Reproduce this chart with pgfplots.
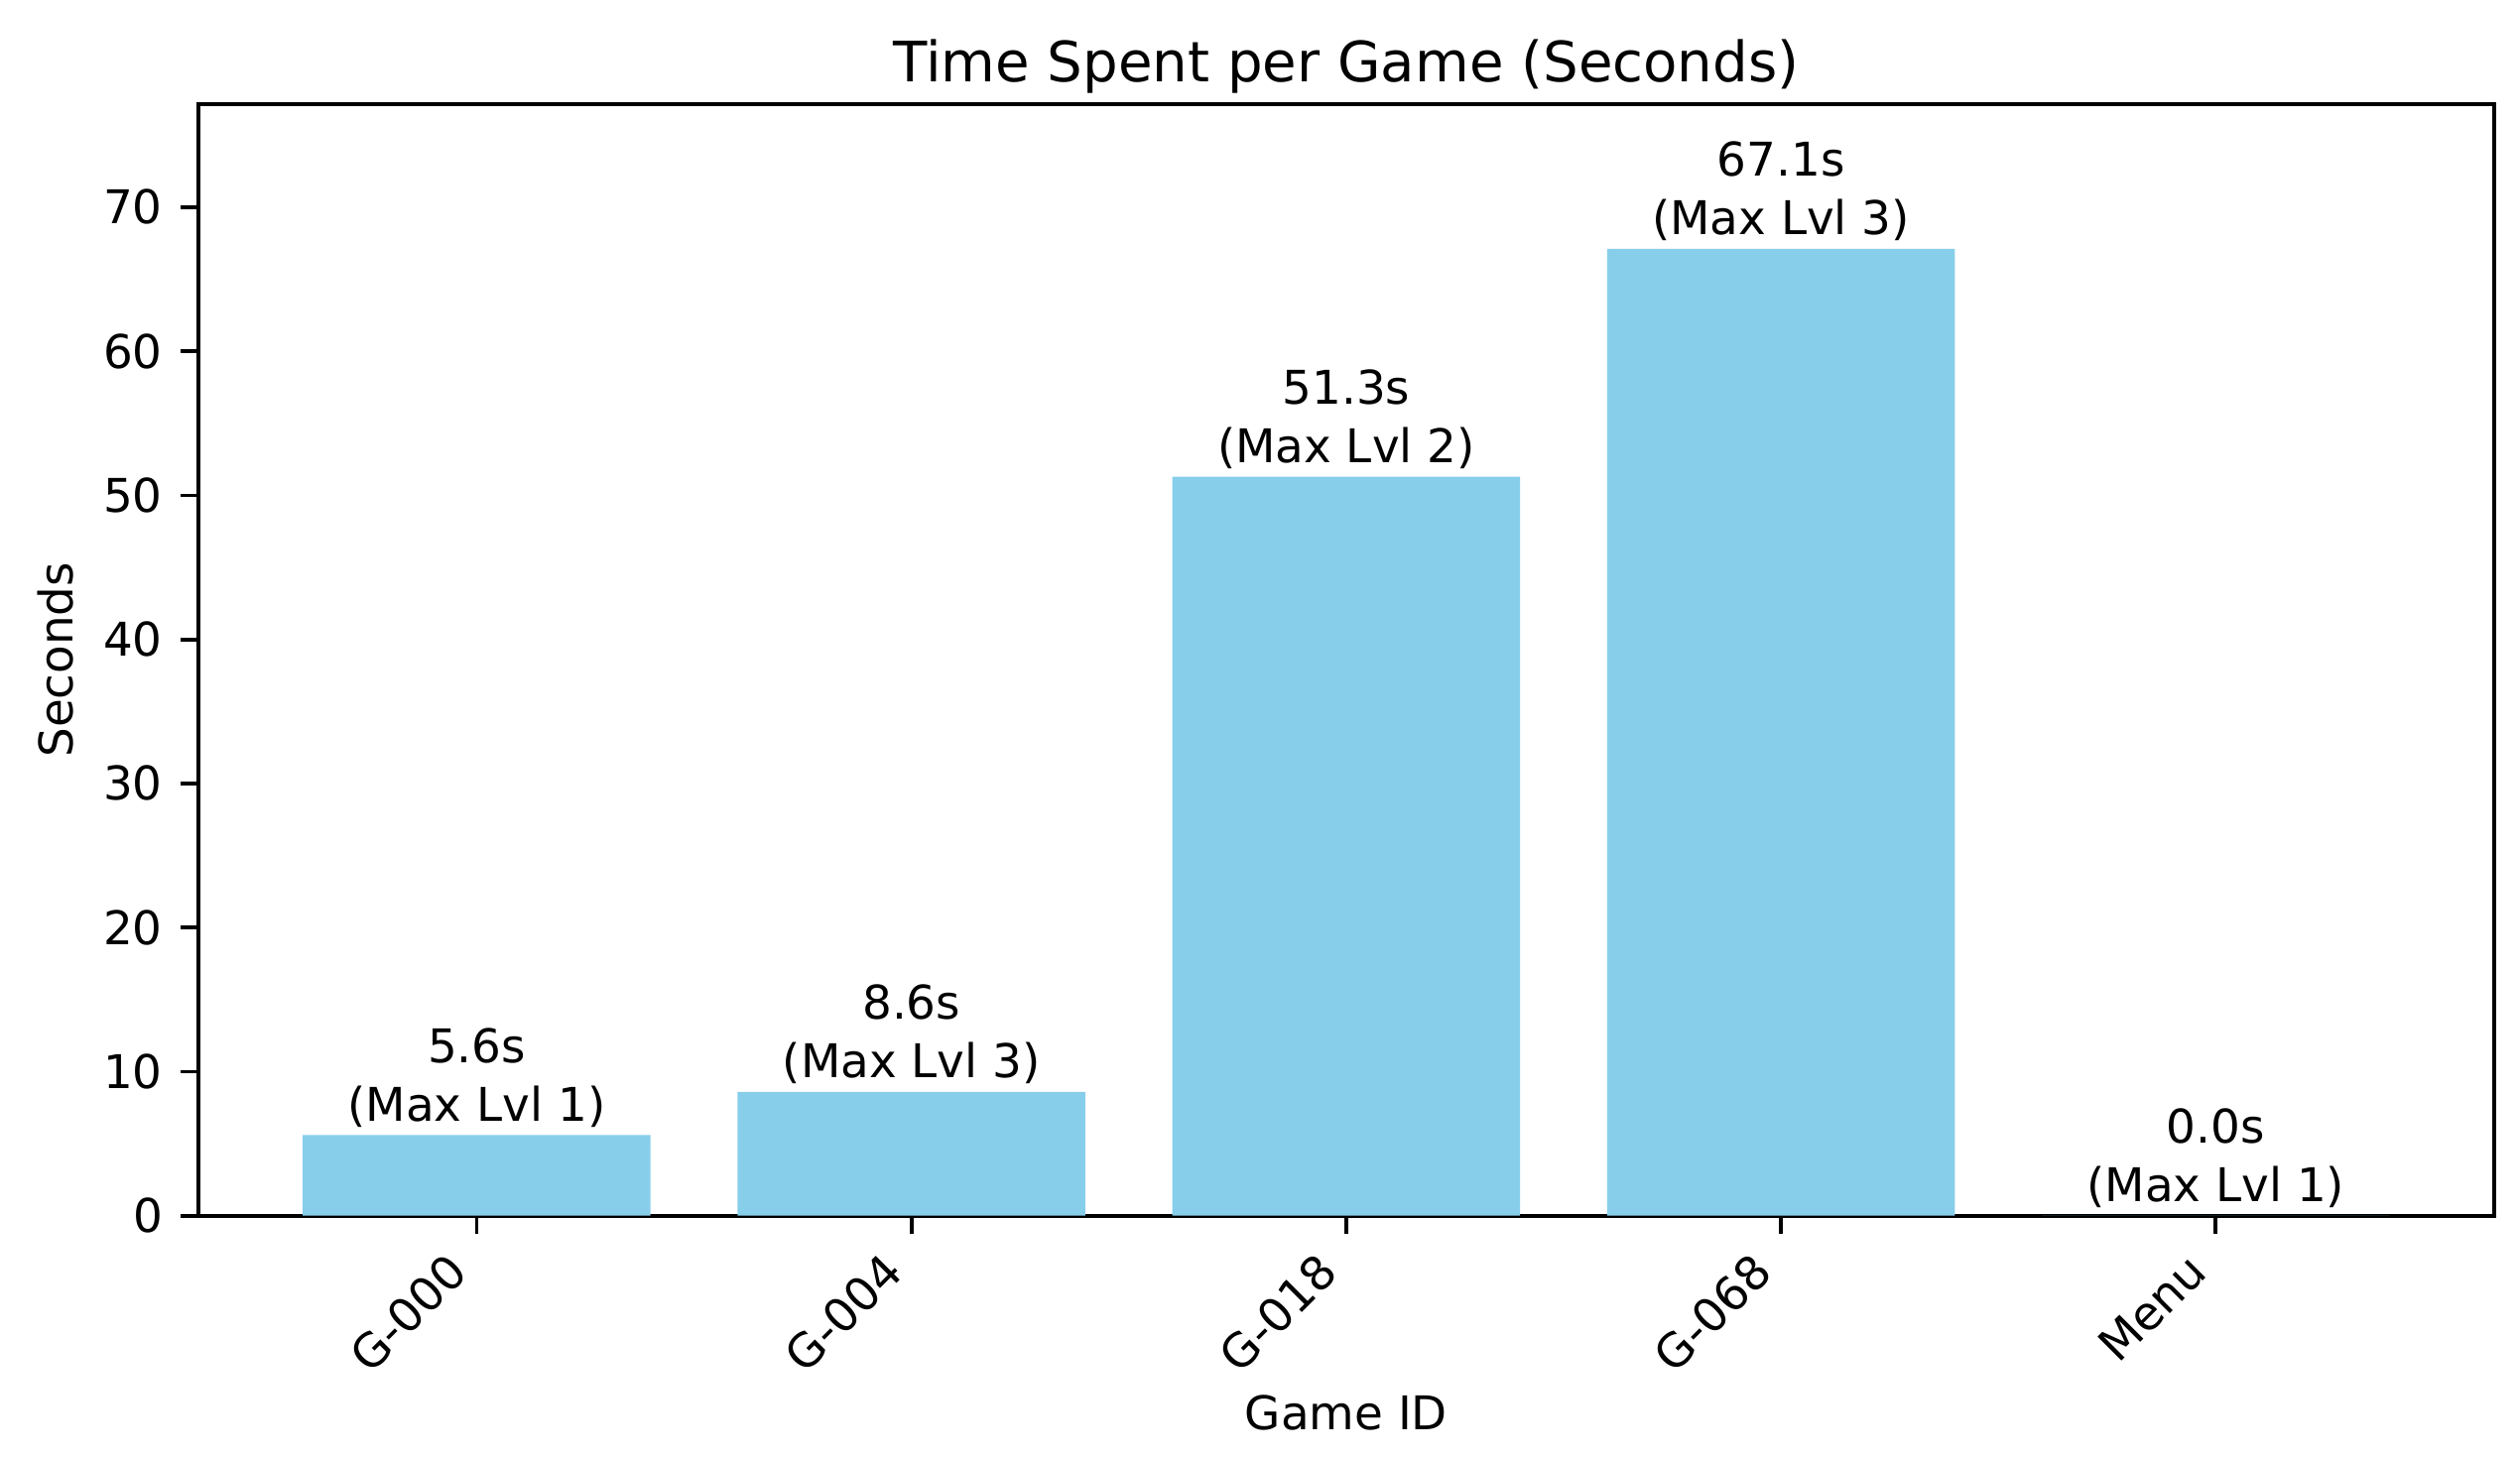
\documentclass[border=0pt]{standalone}
\usepackage{fontspec}
\setmainfont{DejaVu Sans}
\usepackage{pgfplots}
\pgfplotsset{compat=1.18}
\usepackage{pgfplotstable}
\definecolor{skyblue}{HTML}{87CEEB}

\pgfplotstableread{
x y lvl
0 5.6 1
1 8.6 3
2 51.3 2
3 67.1 3
4 0.0 1
}\gamedata

\begin{document}
\begin{tikzpicture}
\begin{axis}[
  scale only axis, width=492.3bp, height=238.5bp,
  xmin=-0.64, xmax=4.64, ymin=0, ymax=77.165,
  xtick={0,1,2,3,4},
  xticklabels={G-000,G-004,G-018,G-068,Menu},
  ytick={0,10,20,30,40,50,60,70},
  tick align=outside, major tick length=3.8bp,
  xtick pos=lower, ytick pos=left,
  tick style={black, line width=0.8bp},
  axis line style={black, line width=0.8bp},
  /pgf/number format/assume math mode=true,
  tick label style={font=\fontsize{10}{12}\selectfont},
  yticklabel style={anchor=east, inner sep=0pt, xshift=-3.7bp},
  xticklabel style={inner sep=0pt, anchor=north east, xshift=-6.6bp, yshift=-3.4bp, rotate=45},
  title={Time Spent per Game (Seconds)},
  title style={at={(axis description cs:0.5,1)}, anchor=base, yshift=-1.3bp, font=\fontsize{12}{14}\selectfont},
  xlabel={Game ID},
  xlabel style={at={(axis description cs:0.5,0)}, anchor=base, yshift=-46bp, font=\fontsize{10}{12}\selectfont},
  ylabel={Seconds},
  ylabel style={at={(axis description cs:-0.0548,0.5)}, anchor=base, font=\fontsize{10}{12}\selectfont},
]
\addplot[ybar, bar width=0.8, fill=skyblue, draw=none,
  visualization depends on={\thisrow{lvl} \as \lvl},
  nodes near coords={\pgfmathprintnumber[fixed,fixed zerofill,precision=1]{\pgfplotspointmeta}s\\(Max Lvl \pgfmathprintnumber[fixed,precision=0]{\lvl})},
  every node near coord/.append style={anchor=south, inner sep=0pt, yshift=1.5bp, align=center, font=\fontsize{10}{12.6}\selectfont, text=black},
] table[x=x, y=y] {\gamedata};
\end{axis}
\pgfresetboundingbox
\path[use as bounding box] (-42.55bp,-51.9bp) rectangle (497.88bp,260.8bp);
\end{tikzpicture}
\end{document}
